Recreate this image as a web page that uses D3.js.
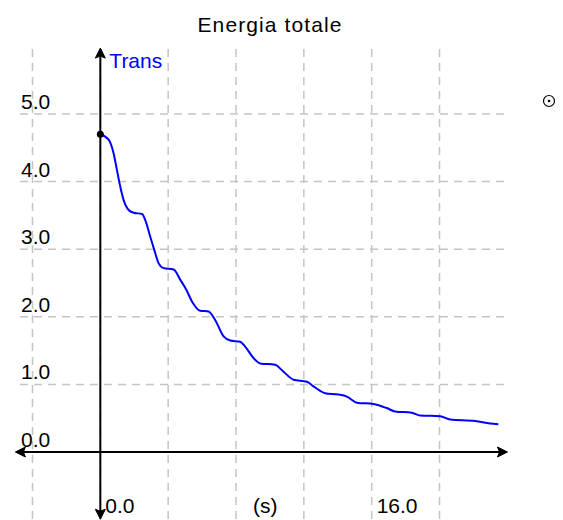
<!DOCTYPE html>
<html>
<head>
<meta charset="utf-8">
<script src="https://cdn.jsdelivr.net/npm/d3@7"></script>
<style>
  html, body { margin: 0; padding: 0; background: #fff; }
  svg { display: block; }
  text { font-family: "Liberation Sans", Arial, sans-serif; }
</style>
</head>
<body>
<svg id="chart" width="563" height="520"></svg>
<script>
// Total energy over time (seconds)
const timeS = [0, 0.49, 0.78, 0.98, 1.18, 1.37, 1.67, 1.96, 2.46, 2.65, 2.95, 3.18, 3.44, 3.73,
  4.32, 4.71, 5.07, 5.42, 5.89, 6.38, 6.78, 7.27, 7.66, 8.25, 8.54, 9.03, 9.43, 10.31, 10.71,
  11.39, 12.18, 12.57, 13.26, 14.04, 14.54, 15.13, 16.10, 16.89, 17.38, 18.37, 18.86, 20.04,
  20.63, 22.10, 22.98, 23.47];
const energy = [4.70, 4.62, 4.42, 4.17, 3.92, 3.73, 3.58, 3.54, 3.52, 3.43, 3.18, 2.99, 2.79, 2.72,
  2.70, 2.55, 2.40, 2.22, 2.09, 2.08, 1.95, 1.71, 1.65, 1.63, 1.56, 1.39, 1.31, 1.29, 1.21,
  1.07, 1.04, 0.97, 0.87, 0.85, 0.82, 0.73, 0.71, 0.65, 0.60, 0.58, 0.54, 0.53,
  0.48, 0.46, 0.42, 0.41];

const xGrid = [-4, 0, 4, 8, 12, 16, 20];
const yGrid = [0, 1, 2, 3, 4, 5];
const yTickLabels = ["0.0", "1.0", "2.0", "3.0", "4.0", "5.0"];
const xTickValues = [0, 16];
const xTickLabels = ["0.0", "16.0"];
const xUnitPos = 9;
const xUnitLabel = "(s)";
const seriesName = "Trans";
const title = "Energia totale";

const svg = d3.select("#chart");
const x = d3.scaleLinear().domain([-4, 20]).range([32.5, 439.5]);
const y = d3.scaleLinear().domain([0, 5]).range([452, 114]);

const xMin = -4.95, xMax = 23.95;   // axis extents (s)
const yMin = -0.98, yMax = 5.96;    // axis extents (energy)

// dashed grid
const grid = svg.append("g")
  .attr("stroke", "#c4c4c4").attr("stroke-width", 1.5)
  .attr("stroke-dasharray", "8,6").attr("fill", "none");
grid.selectAll("line.v").data(xGrid).join("line")
  .attr("class", "v")
  .attr("x1", d => x(d)).attr("x2", d => x(d))
  .attr("y1", y(yMax)).attr("y2", 520);
grid.selectAll("line.h").data(yGrid).join("line")
  .attr("class", "h")
  .attr("x1", 20).attr("x2", x(xMax))
  .attr("y1", d => y(d)).attr("y2", d => y(d));

// axes
const axes = svg.append("g").attr("stroke", "#000").attr("stroke-width", 2);
axes.append("line").attr("x1", x(xMin)).attr("x2", x(xMax))
  .attr("y1", y(0)).attr("y2", y(0));
axes.append("line").attr("x1", x(0)).attr("x2", x(0))
  .attr("y1", y(yMax)).attr("y2", y(yMin));

// arrowheads at axis ends
function arrow(px, py, angle) {
  svg.append("path")
    .attr("d", "M1,0 L-9,-5 L-7,0 L-9,5 Z")
    .attr("fill", "#000").attr("stroke", "#000").attr("stroke-width", 1)
    .attr("transform", `translate(${px},${py}) rotate(${angle})`);
}
arrow(x(xMax), y(0), 0);
arrow(x(xMin), y(0), 180);
arrow(x(0), y(yMax), -90);
arrow(x(0), y(yMin), 90);

// tick labels
svg.append("g").attr("font-size", 21).attr("fill", "#000")
  .selectAll("text").data(yGrid).join("text")
  .attr("x", 21).attr("y", d => y(d) - 5)
  .text((d, i) => yTickLabels[i]);

svg.append("g").attr("font-size", 21).attr("fill", "#000")
  .selectAll("text").data(xTickValues).join("text")
  .attr("x", d => x(d) + 5).attr("y", 513)
  .text((d, i) => xTickLabels[i]);

svg.append("text").attr("font-size", 21).attr("fill", "#000")
  .attr("x", x(xUnitPos)).attr("y", 513).text(xUnitLabel);

// title
svg.append("text").attr("font-size", 21).attr("fill", "#000")
  .attr("letter-spacing", 1.1)
  .attr("x", 270).attr("y", 32).attr("text-anchor", "middle").text(title);

// series name
svg.append("text").attr("font-size", 21).attr("fill", "#0000ff")
  .attr("x", x(0) + 9).attr("y", 68).text(seriesName);

// energy curve
const pts = timeS.map((t, i) => [t, energy[i]]);
svg.append("path").datum(pts)
  .attr("fill", "none").attr("stroke", "#0000ff").attr("stroke-width", 2)
  .attr("d", d3.line().x(d => x(d[0])).y(d => y(d[1])).curve(d3.curveMonotoneX));

// start marker
svg.append("circle").attr("cx", x(timeS[0])).attr("cy", y(energy[0]))
  .attr("r", 3.5).attr("fill", "#000");

// small target symbol
svg.append("circle").attr("cx", 549).attr("cy", 101).attr("r", 5.5)
  .attr("fill", "none").attr("stroke", "#000").attr("stroke-width", 1.2);
svg.append("circle").attr("cx", 549).attr("cy", 101).attr("r", 1.3).attr("fill", "#000");
</script>
</body>
</html>
